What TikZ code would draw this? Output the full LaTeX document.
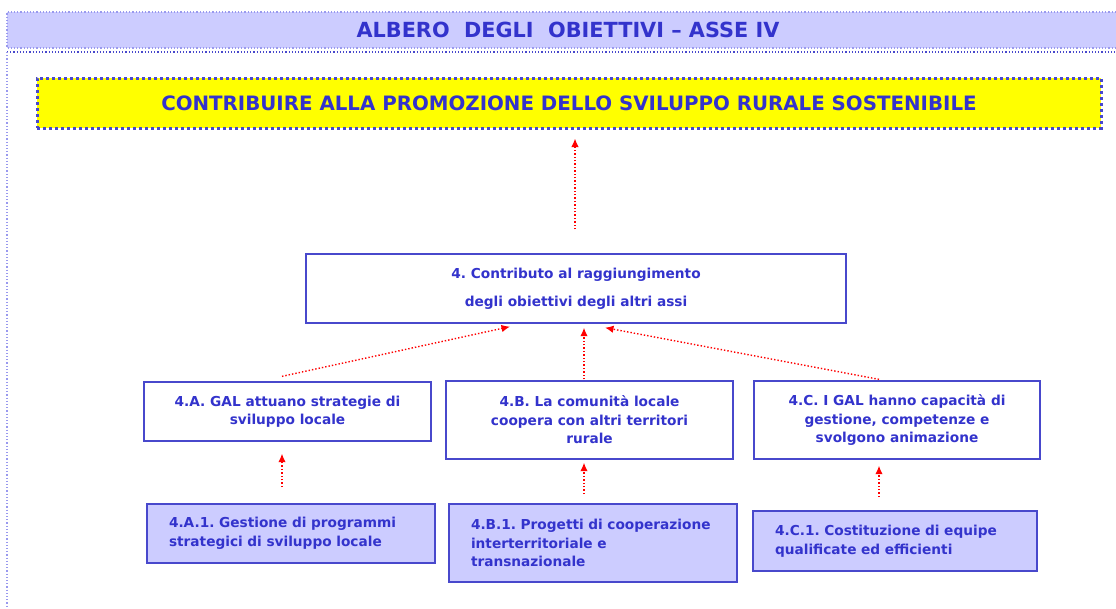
\documentclass[tikz,border=0pt]{standalone}
\usepackage{fontspec}
\setmainfont{DejaVu Sans}
\usetikzlibrary{arrows.meta}
\definecolor{txtblue}{HTML}{3333CC}
\definecolor{lineblue}{HTML}{4848CC}
\definecolor{paleblue}{HTML}{CCCCFF}
\definecolor{bandline}{HTML}{9999EE}
\definecolor{goalyellow}{HTML}{FFFF00}
\frenchspacing

\begin{document}
\begin{tikzpicture}[x=1pt, y=-1pt, >={Latex[length=8.5pt,width=7.5pt]},
  objbox/.style={draw=lineblue, line width=1.3pt, fill=white, text=txtblue, align=center,
    inner sep=0pt, font=\bfseries\fontsize{13.7}{18.5}\selectfont},
  measbox/.style={objbox, fill=paleblue, line width=1.6pt, align=left, inner xsep=22pt},
  link/.style={->, red, dotted, line width=1.4pt}]

\useasboundingbox (0,0) rectangle (1116,608);

% --- Title band and page frame ---
\fill[paleblue] (7,12) rectangle (1116,48);
\draw[bandline, dotted, line width=1.2pt] (1116,12) -- (7,12) -- (7,48) -- (1116,48);
\draw[lineblue, dotted, line width=1.2pt] (7,52) -- (1116,52);
\draw[bandline, dotted, line width=1.2pt] (7,52) -- (7,608);
\node[text=txtblue, font=\bfseries\fontsize{20.8}{22}\selectfont] (title) at (568,30)
  {ALBERO\ \ DEGLI\ \ OBIETTIVI -- ASSE IV};

% --- General objective ---
\node[draw=lineblue, fill=goalyellow, line width=3pt, dash pattern=on 3pt off 3pt,
  minimum width=1064, minimum height=50, text=txtblue,
  font=\bfseries\fontsize{19.8}{22}\selectfont] (general) at (569,103)
  {CONTRIBUIRE ALLA PROMOZIONE DELLO SVILUPPO RURALE SOSTENIBILE};

% --- Specific objective ---
\node[objbox, minimum width=540, minimum height=69, font=\bfseries\fontsize{13.7}{28}\selectfont]
  (specific) at (576,288.5) {4. Contributo al raggiungimento\\degli obiettivi degli altri assi};

% --- Operative objectives ---
\node[objbox, minimum width=287, minimum height=59] (axisA) at (287.5,411.5)
  {4.A. GAL attuano strategie di\\sviluppo locale};
\node[objbox, minimum width=287, minimum height=78] (axisB) at (589.5,420)
  {4.B. La comunità locale\\coopera con altri territori\\rurale};
\node[objbox, minimum width=286, minimum height=78] (axisC) at (897,420)
  {4.C. I GAL hanno capacità di\\gestione, competenze e\\svolgono animazione};

% --- Measures ---
\node[measbox, text width=244, minimum height=59] (measA) at (291,533.5)
  {4.A.1. Gestione di programmi\\strategici di sviluppo locale};
\node[measbox, text width=244, minimum height=78] (measB) at (593,543)
  {4.B.1. Progetti di cooperazione\\interterritoriale e\\transnazionale};
\node[measbox, text width=240, minimum height=60] (measC) at (895,541)
  {4.C.1. Costituzione di equipe\\qualificate ed efficienti};

% --- Links ---
\draw[link] ([shift={(-1,-24)}]specific.north) -- ([shift={(6,9)}]general.south);
\draw[link] ([shift={(-5.5,-5)}]axisA.north) -- ([shift={(-66,3)}]specific.south);
\draw[link] ([shift={(-5.5,-1)}]axisB.north) -- ([shift={(8,4)}]specific.south);
\draw[link] ([shift={(-18,-1)}]axisC.north) -- ([shift={(29,4)}]specific.south);
\draw[link] ([shift={(-9,-16)}]measA.north) -- ([shift={(-5.5,12)}]axisA.south);
\draw[link] ([shift={(-9,-9)}]measB.north) -- ([shift={(-5.5,3)}]axisB.south);
\draw[link] ([shift={(-16,-13)}]measC.north) -- ([shift={(-18,6)}]axisC.south);

\end{tikzpicture}
\end{document}
